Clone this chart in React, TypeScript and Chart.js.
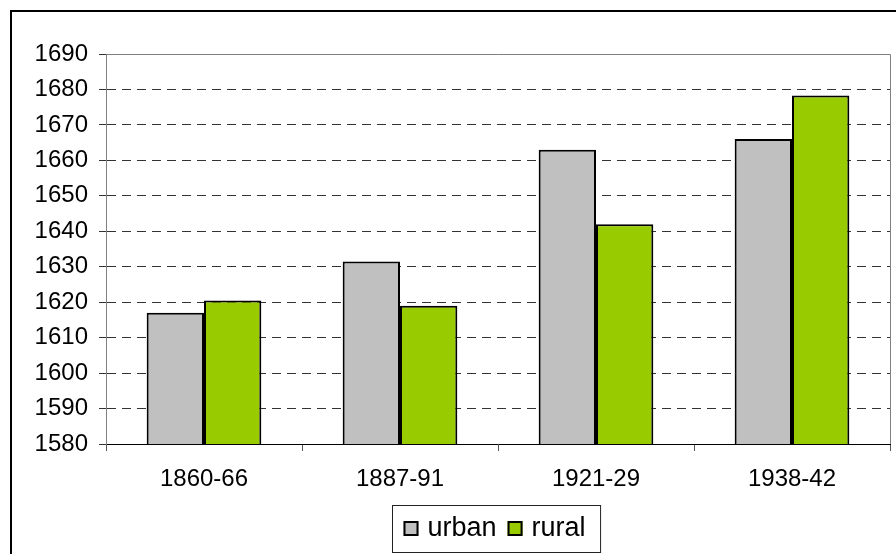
import React, { useEffect, useRef } from "react";
import { Chart, registerables } from "chart.js";

Chart.register(...registerables);

const categories = ["1860-66", "1887-91", "1921-29", "1938-42"];
const urbanValues = [1617, 1631.5, 1663, 1666];
const ruralValues = [1620.5, 1619, 1642, 1678.3];
const seriesLabels = ["urban", "rural"];
const yMin = 1580;
const yMax = 1690;
const yStep = 10;

const FONT = "'Liberation Sans', Arial, sans-serif";

const framePlugin = {
  id: "framePlugin",
  afterDraw(chart: any) {
    const ctx = chart.ctx;
    const a = chart.chartArea;
    ctx.save();
    ctx.setLineDash([]);
    // plot area border (top/right gray)
    ctx.strokeStyle = "#808080";
    ctx.lineWidth = 1;
    ctx.beginPath();
    ctx.moveTo(a.left, a.top + 0.5);
    ctx.lineTo(a.right + 0.5, a.top + 0.5);
    ctx.lineTo(a.right + 0.5, a.bottom);
    ctx.stroke();
    // outer frame
    ctx.strokeStyle = "#000";
    ctx.lineWidth = 2;
    ctx.strokeRect(11, 11, 1200, 1200);

    // legend
    const fontPx = 27;
    ctx.font = `${fontPx}px ${FONT}`;
    const sq = 15;
    const gap = 9;
    const itemGap = 11;
    const padL = 11;
    const padR = 15;
    const ds = chart.data.datasets;
    const widths = ds.map((d: any) => ctx.measureText(d.label).width);
    let total = padL + padR;
    ds.forEach((d: any, i: number) => {
      total += sq + gap + widths[i];
      if (i < ds.length - 1) total += itemGap;
    });
    const cx = (a.left + a.right) / 2 - 1.5;
    const boxL = Math.round(cx - total / 2) + 0.5;
    const boxT = 505.5;
    const boxH = 47;
    ctx.strokeStyle = "#222";
    ctx.lineWidth = 1;
    ctx.strokeRect(boxL, boxT, total, boxH);
    let x = boxL + padL;
    const baseline = 536;
    ds.forEach((d: any, i: number) => {
      ctx.fillStyle = d.backgroundColor;
      ctx.fillRect(x, baseline - sq, sq, sq);
      ctx.strokeStyle = "#000";
      ctx.lineWidth = 2;
      ctx.strokeRect(x + 1, baseline - sq + 1, sq - 2, sq - 2);
      x += sq + gap;
      ctx.fillStyle = "#000";
      ctx.textBaseline = "alphabetic";
      ctx.textAlign = "left";
      ctx.fillText(d.label, x, baseline);
      x += widths[i] + itemGap;
    });
    ctx.restore();
  },
};

export default function App() {
  const ref = useRef<HTMLCanvasElement | null>(null);
  useEffect(() => {
    if (!ref.current) return;
    const chart = new Chart(ref.current, {
      type: "bar",
      data: {
        labels: categories,
        datasets: [
          {
            label: seriesLabels[0],
            data: urbanValues,
            backgroundColor: "#C0C0C0",
            borderColor: "#000",
            borderWidth: 2,
            categoryPercentage: 0.585,
            barPercentage: 1,
          },
          {
            label: seriesLabels[1],
            data: ruralValues,
            backgroundColor: "#99CC00",
            borderColor: "#000",
            borderWidth: 2,
            categoryPercentage: 0.585,
            barPercentage: 1,
          },
        ],
      },
      options: {
        animation: false,
        responsive: false,
        maintainAspectRatio: false,
        layout: { padding: { left: 0, top: 54, right: 6, bottom: 0 } },
        plugins: {
          legend: { display: false },
          tooltip: { enabled: false },
        },
        scales: {
          x: {
            grid: {
              drawOnChartArea: false,
              tickLength: 7,
              tickColor: "#555",
              offset: true,
            },
            border: { color: "#000", width: 1 },
            ticks: {
              color: "#000",
              font: { family: FONT, size: 24 },
              padding: 14,
              maxRotation: 0,
            },
            afterFit(scale: any) {
              scale.height = 110;
            },
          },
          y: {
            min: yMin,
            max: yMax,
            grid: {
              color: (c: any) =>
                c.tick && (c.tick.value === yMin || c.tick.value === yMax)
                  ? "rgba(0,0,0,0)"
                  : "#333",
              tickLength: 7,
              tickColor: "#333",
              tickBorderDash: [],
            },
            border: { color: "#808080", width: 1, dash: [9, 6] },
            ticks: {
              stepSize: yStep,
              color: "#000",
              font: { family: FONT, size: 24 },
              padding: 11,
              callback: (v: any) => String(v),
            },
            afterFit(scale: any) {
              scale.width = 106;
            },
          },
        },
      },
      plugins: [framePlugin],
    });
    return () => chart.destroy();
  }, []);
  return (
    <div style={{ position: "fixed", left: 0, top: 0, width: 896, height: 554, background: "#fff" }}>
      <canvas ref={ref} width={896} height={554} style={{ width: 896, height: 554, display: "block" }} />
    </div>
  );
}
